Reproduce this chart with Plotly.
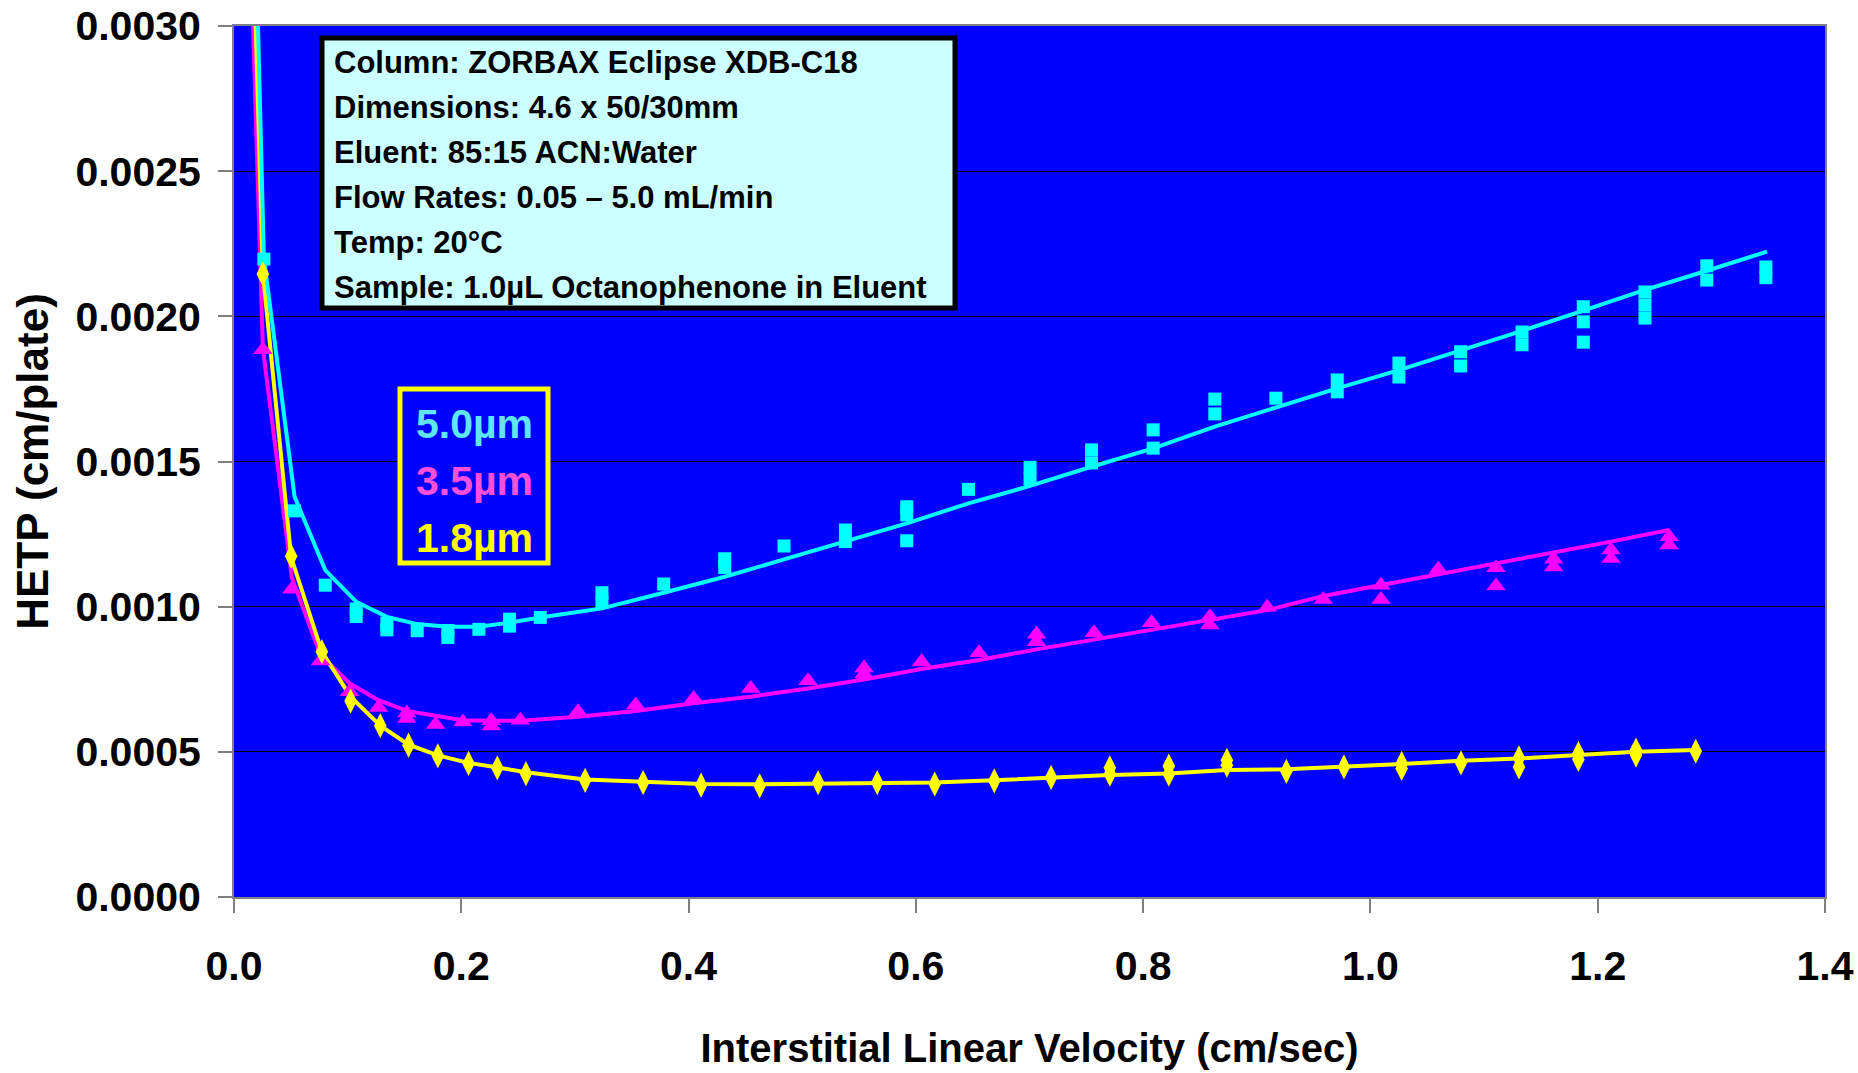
import plotly.graph_objects as go

# ---------------- data ----------------
# 1.8 um  (yellow diamonds)
yel_pts_x = [0.0254, 0.0503, 0.0773, 0.1026, 0.1287, 0.1536, 0.1794, 0.2064, 0.2317, 0.2569,
             0.309, 0.360, 0.411, 0.4626, 0.514, 0.566, 0.6166, 0.669, 0.719,
             0.7707, 0.7707, 0.8226, 0.8226, 0.8737, 0.8737, 0.926, 0.9767, 1.0275, 1.0275,
             1.0797, 1.1307, 1.1307, 1.183, 1.183, 1.2337, 1.2337, 1.2863]
yel_pts_y = [0.002146, 0.001174, 0.000845, 0.000675, 0.000590, 0.000523, 0.000486, 0.000460, 0.000445, 0.000425,
             0.000402, 0.000394, 0.000385, 0.000383, 0.000394, 0.000394, 0.000389, 0.000400, 0.000412,
             0.000445, 0.000423, 0.000451, 0.000423, 0.000471, 0.000454, 0.000433, 0.000448, 0.000460, 0.000443,
             0.000462, 0.000479, 0.000448, 0.000494, 0.000474, 0.000506, 0.000489, 0.000502]
yel_line_x = [0.0127, 0.0254, 0.0503, 0.0773, 0.1026, 0.1287, 0.1536, 0.1794, 0.2064, 0.2317, 0.2569,
              0.309, 0.360, 0.411, 0.4626, 0.514, 0.566, 0.6166, 0.669, 0.719, 0.7707, 0.8226, 0.8737,
              0.926, 0.9767, 1.0275, 1.0797, 1.1307, 1.183, 1.2337, 1.2863]
yel_line_y = [0.00385, 0.00215, 0.00117, 0.000845, 0.00069, 0.00059, 0.000525, 0.000488, 0.000462, 0.000447, 0.00043,
              0.000405, 0.000398, 0.000389, 0.000388, 0.000391, 0.000391, 0.000394, 0.000402, 0.000412, 0.00042,
              0.000425, 0.000437, 0.00044, 0.000448, 0.000458, 0.000469, 0.000477, 0.000489, 0.0005, 0.000506]

# 3.5 um  (magenta triangles)
mag_pts_x = [0.0254, 0.0509, 0.0761, 0.1017, 0.1272, 0.1521, 0.1521, 0.1774, 0.2014, 0.2264, 0.2264, 0.2519,
             0.3027, 0.3534, 0.4045, 0.4547, 0.5051, 0.5544, 0.5544, 0.605, 0.6556, 0.7062, 0.7062, 0.7569,
             0.8074, 0.8587, 0.8587, 0.9092, 0.9585, 1.0093, 1.0093, 1.0597, 1.1105, 1.1105, 1.1613, 1.1613,
             1.2117, 1.2117, 1.2628, 1.2628]
mag_pts_y = [0.001885, 0.001060, 0.000813, 0.000707, 0.000653, 0.000634, 0.000615, 0.000594, 0.000603, 0.000607,
             0.000589, 0.000609, 0.000638, 0.000661, 0.000684, 0.000718, 0.000745, 0.000789, 0.000768, 0.000810,
             0.000841, 0.000905, 0.000879, 0.000910, 0.000945, 0.000965, 0.000937, 0.000998, 0.001025, 0.001074,
             0.001025, 0.001129, 0.001134, 0.001071, 0.001163, 0.001137, 0.001195, 0.001166, 0.001241, 0.001212]
mag_line_x = [0.0127, 0.0254, 0.0509, 0.0761, 0.1017, 0.1272, 0.1521, 0.1774, 0.2014, 0.2264, 0.2519,
              0.3027, 0.3534, 0.4045, 0.4547, 0.5051, 0.5544, 0.605, 0.6556, 0.7062, 0.7569, 0.8074,
              0.8587, 0.9092, 0.9585, 1.0093, 1.0597, 1.1105, 1.1613, 1.2117, 1.2628]
mag_line_y = [0.00352, 0.00189, 0.00110, 0.000833, 0.000736, 0.000678, 0.000641, 0.000623, 0.000609, 0.000607,
              0.000607, 0.000621, 0.000641, 0.000667, 0.000690, 0.000718, 0.000749, 0.000785, 0.000816,
              0.000853, 0.000887, 0.000919, 0.000954, 0.000988, 0.001037, 0.001074, 0.001112, 0.001149,
              0.001186, 0.001224, 0.001264]

# 5.0 um  (cyan squares)
cya_pts_x = [0.0263, 0.0533, 0.0803, 0.1075, 0.1075, 0.1345, 0.1345, 0.1612, 0.1882, 0.1882, 0.2155,
             0.2425, 0.2425, 0.2695, 0.3238, 0.3238, 0.3781, 0.4318, 0.4318, 0.484, 0.538, 0.538,
             0.592, 0.592, 0.592, 0.6463, 0.7005, 0.7005, 0.7546, 0.7546, 0.8088, 0.8088, 0.8631, 0.8631,
             0.9168, 0.9708, 0.9708, 1.0251, 1.0251, 1.0794, 1.0794, 1.1334, 1.1334, 1.1873, 1.1873, 1.1873,
             1.2416, 1.2416, 1.2416, 1.296, 1.296, 1.348, 1.348]
cya_pts_y = [0.002197, 0.001330, 0.001074, 0.000992, 0.000966, 0.000943, 0.000920, 0.000917, 0.000918, 0.000894,
             0.000922, 0.000957, 0.000933, 0.000963, 0.001048, 0.001014, 0.001078, 0.001165, 0.001135, 0.001209,
             0.001264, 0.001224, 0.001344, 0.001316, 0.001227, 0.001404, 0.001480, 0.001440, 0.001540, 0.001495,
             0.001609, 0.001546, 0.001715, 0.001664, 0.001718, 0.001781, 0.001740, 0.001839, 0.001791, 0.001878,
             0.001829, 0.001946, 0.001902, 0.002033, 0.001981, 0.001911, 0.002084, 0.002039, 0.001994, 0.002174,
             0.002125, 0.002170, 0.002133]
cya_line_x = [0.013, 0.0263, 0.0533, 0.0803, 0.1075, 0.1345, 0.1612, 0.1882, 0.2155, 0.2425, 0.2695,
              0.3238, 0.3781, 0.4318, 0.484, 0.538, 0.592, 0.6463, 0.7005, 0.7546, 0.8088, 0.8631,
              0.9168, 0.9708, 1.0251, 1.0794, 1.1334, 1.1873, 1.2416, 1.296, 1.349]
cya_line_y = [0.00426, 0.00220, 0.001379, 0.001126, 0.001017, 0.000965, 0.000940, 0.000931, 0.000931, 0.000945,
              0.000963, 0.000994, 0.001048, 0.001103, 0.001163, 0.001224, 0.001287, 0.001356, 0.001416,
              0.001482, 0.001545, 0.001620, 0.001687, 0.001752, 0.001815, 0.001881, 0.001950, 0.002020,
              0.002091, 0.002157, 0.002223]

series_names = ["5.0µm", "3.5µm", "1.8µm"]
x_ticks = [0.0, 0.2, 0.4, 0.6, 0.8, 1.0, 1.2, 1.4]
y_ticks = [0.0, 0.0005, 0.0010, 0.0015, 0.0020, 0.0025, 0.0030]
info_lines = [
    "Column: ZORBAX Eclipse XDB-C18",
    "Dimensions: 4.6 x 50/30mm",
    "Eluent: 85:15 ACN:Water",
    "Flow Rates: 0.05 – 5.0 mL/min",
    "Temp: 20°C",
    "Sample: 1.0µL Octanophenone in Eluent",
]

# ---------------- styling ----------------
W, H = 1858, 1073
ML, MR, MT, MB = 234, 33, 26, 176
FONT = "Liberation Sans, Arial, sans-serif"
CYAN, MAGENTA, YELLOW = "#00FFFF", "#FF00FF", "#FFFF00"


def px_x(p):
    return (p - ML) / (W - ML - MR)


def px_y(p):
    return 1 - (p - MT) / (H - MT - MB)


fig = go.Figure()

for lx, ly, col, nm in [(mag_line_x, mag_line_y, MAGENTA, series_names[1]),
                        (yel_line_x, yel_line_y, YELLOW, series_names[2]),
                        (cya_line_x, cya_line_y, CYAN, series_names[0])]:
    fig.add_trace(go.Scatter(x=lx, y=ly, mode="lines", name=nm + " fit",
                             line=dict(color=col, width=4), showlegend=False))

fig.add_trace(go.Scatter(x=cya_pts_x, y=cya_pts_y, mode="markers", name=series_names[0],
                         marker=dict(symbol="square", size=13, color=CYAN, line=dict(width=0)),
                         showlegend=False))
fig.add_trace(go.Scatter(x=mag_pts_x, y=mag_pts_y, mode="markers", name=series_names[1],
                         marker=dict(symbol="triangle-up", size=17, color=MAGENTA, line=dict(width=0)),
                         showlegend=False))
fig.add_trace(go.Scatter(x=yel_pts_x, y=yel_pts_y, mode="markers", name=series_names[2],
                         marker=dict(symbol="diamond-tall", size=18, color=YELLOW, line=dict(width=0)),
                         showlegend=False))

tick_font = dict(family=FONT, size=41, color="black", weight="bold")

fig.update_layout(
    width=W, height=H,
    margin=dict(l=ML, r=MR, t=MT, b=MB, autoexpand=False),
    paper_bgcolor="white",
    plot_bgcolor="#0000FF",
    showlegend=False,
    xaxis=dict(range=[0, 1.40001], tickvals=x_ticks, ticktext=[f"{v:.1f}" for v in x_ticks],
               ticks="outside", ticklen=14, tickwidth=2, tickcolor="#808080",
               showline=True, linecolor="#808080", linewidth=2, mirror=True,
               showgrid=False, zeroline=False, tickfont=tick_font, ticklabelstandoff=18,
               title=dict(text="Interstitial Linear Velocity (cm/sec)",
                          font=dict(family=FONT, size=40, color="black", weight="bold"),
                          standoff=46)),
    yaxis=dict(range=[0, 0.0030000001], tickvals=y_ticks, ticktext=[f"{v:.4f}" for v in y_ticks],
               ticks="outside", ticklen=14, tickwidth=2, tickcolor="#808080",
               showline=True, linecolor="#808080", linewidth=2, mirror=True,
               showgrid=True, gridcolor="black", gridwidth=1, zeroline=False,
               tickfont=tick_font, ticklabelstandoff=9,
               title=dict(text="HETP (cm/plate)",
                          font=dict(family=FONT, size=44, color="black", weight="bold"),
                          standoff=13)),
)

# info box
fig.add_shape(type="rect", xref="paper", yref="paper",
              x0=px_x(322), x1=px_x(955), y0=px_y(308), y1=px_y(38),
              line=dict(color="black", width=5), fillcolor="#CCFFFF", layer="above")
for i, line_txt in enumerate(info_lines):
    fig.add_annotation(xref="paper", yref="paper", x=px_x(332), y=px_y(63 + 45 * i),
                       xanchor="left", yanchor="middle", align="left", showarrow=False,
                       text=line_txt,
                       font=dict(family=FONT, size=31, color="black", weight="bold"))

# legend box
fig.add_shape(type="rect", xref="paper", yref="paper",
              x0=px_x(400), x1=px_x(548), y0=px_y(563), y1=px_y(389),
              line=dict(color=YELLOW, width=5), fillcolor="#0000FF", layer="above")
for txt, col, ypx in [(series_names[0], "#5FE6F2", 424), (series_names[1], "#FF4FDA", 481),
                      (series_names[2], YELLOW, 538)]:
    fig.add_annotation(xref="paper", yref="paper", x=px_x(474), y=px_y(ypx),
                       xanchor="center", yanchor="middle", showarrow=False, text=txt,
                       font=dict(family=FONT, size=41, color=col, weight="bold"))

fig.write_html("out.html")
